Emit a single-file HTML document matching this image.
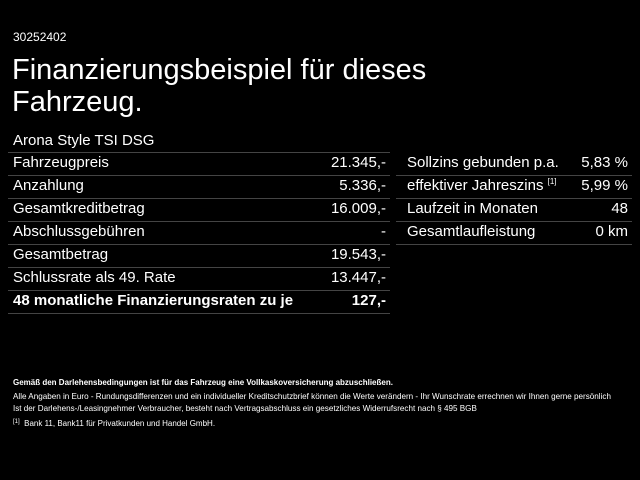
<!DOCTYPE html>
<html><head><meta charset="utf-8"><style>
body{margin:0;width:640px;height:480px;background:#000;color:#fff;font-family:"Liberation Sans",sans-serif;position:relative;overflow:hidden}
.a{position:absolute;white-space:nowrap}
.row{position:absolute;height:23px;border-bottom:1px solid #444;font-size:15px;line-height:22px}
.row span{position:absolute}
.r{right:4px}
.l{left:5px}
sup{line-height:0;vertical-align:6px}
</style></head><body>
<div class="a" style="left:13px;top:30px;font-size:12px">30252402</div>
<div class="a" style="left:12px;top:54px;font-size:29px;line-height:32px">Finanzierungsbeispiel für dieses<br>Fahrzeug.</div>
<div class="a" style="left:13px;top:132px;font-size:15px">Arona Style TSI DSG</div>
<div style="position:absolute;left:8px;top:152px;width:382px;border-top:1px solid #444"></div>
<div class="row" style="left:8px;width:382px;top:152px"><span class="l">Fahrzeugpreis</span><span class="r">21.345,-</span></div>
<div class="row" style="left:8px;width:382px;top:175px"><span class="l">Anzahlung</span><span class="r">5.336,-</span></div>
<div class="row" style="left:8px;width:382px;top:198px"><span class="l">Gesamtkreditbetrag</span><span class="r">16.009,-</span></div>
<div class="row" style="left:8px;width:382px;top:221px"><span class="l">Abschlussgebühren</span><span class="r">-</span></div>
<div class="row" style="left:8px;width:382px;top:244px"><span class="l">Gesamtbetrag</span><span class="r">19.543,-</span></div>
<div class="row" style="left:8px;width:382px;top:267px"><span class="l">Schlussrate als 49. Rate</span><span class="r">13.447,-</span></div>
<div class="row" style="left:8px;width:382px;top:290px;font-weight:bold"><span class="l">48 monatliche Finanzierungsraten zu je</span><span class="r">127,-</span></div>
<div class="row" style="left:396px;width:236px;top:152px"><span class="l" style="left:11px">Sollzins gebunden p.a.</span><span class="r">5,83 %</span></div>
<div class="row" style="left:396px;width:236px;top:175px"><span class="l" style="left:11px">effektiver Jahreszins <sup style="font-size:8px">[1]</sup></span><span class="r">5,99 %</span></div>
<div class="row" style="left:396px;width:236px;top:198px"><span class="l" style="left:11px">Laufzeit in Monaten</span><span class="r">48</span></div>
<div class="row" style="left:396px;width:236px;top:221px"><span class="l" style="left:11px">Gesamtlaufleistung</span><span class="r">0 km</span></div>
<div class="a" style="left:13px;top:378px;font-size:8px;font-weight:bold">Gemäß den Darlehensbedingungen ist für das Fahrzeug eine Vollkaskoversicherung abzuschließen.</div>
<div class="a" style="left:13px;top:392px;font-size:8.1px">Alle Angaben in Euro - Rundungsdifferenzen und ein individueller Kreditschutzbrief können die Werte verändern - Ihr Wunschrate errechnen wir Ihnen gerne persönlich</div>
<div class="a" style="left:13px;top:404px;font-size:8.1px">Ist der Darlehens-/Leasingnehmer Verbraucher, besteht nach Vertragsabschluss ein gesetzliches Widerrufsrecht nach § 495 BGB</div>
<div class="a" style="left:13px;top:419px;font-size:8px"><sup style="font-size:6px;vertical-align:3px">[1]</sup>&nbsp; Bank 11, Bank11 für Privatkunden und Handel GmbH.</div>
</body></html>
